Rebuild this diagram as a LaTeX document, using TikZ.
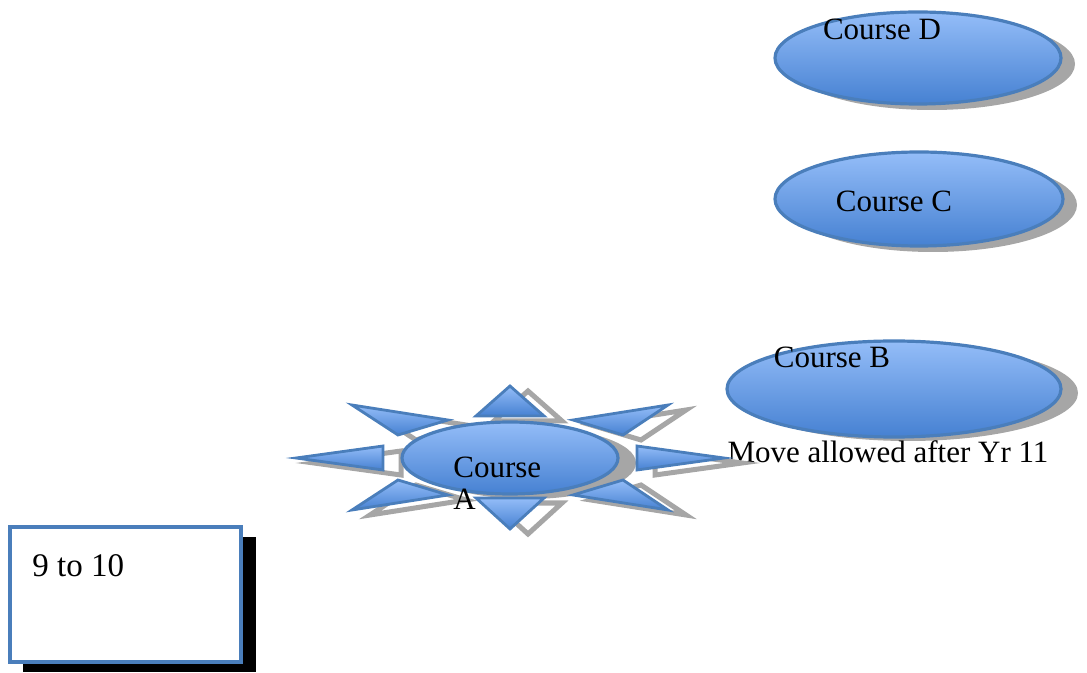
\documentclass[tikz,border=0pt]{standalone}
\usepackage{fontspec}
\setmainfont{Liberation Serif}
\usetikzlibrary{shapes.geometric,positioning}
\definecolor{officeblue}{HTML}{4A7EBB}
\definecolor{lightblue}{HTML}{94BDF8}
\definecolor{darkblue}{HTML}{4681D2}
\definecolor{shadowgray}{HTML}{A6A6A6}

\begin{document}
\begin{tikzpicture}
  [x=0.5pt,y=-0.5pt,every node/.style={font=\fontsize{15.5}{16}\selectfont}]

  \tikzstyle{course} = [draw=officeblue, line width=1.6pt, ellipse, inner sep=0pt,
                        top color=lightblue, bottom color=darkblue]
  \tikzstyle{shade} = [fill=shadowgray, ellipse, inner sep=0pt]
  \tikzstyle{ray} = [draw=officeblue, line width=1.4pt, top color=lightblue, bottom color=darkblue]
  \tikzstyle{rayshade} = [draw=shadowgray, line width=2.5pt, fill=white]

  \useasboundingbox (0,0) rectangle (1087,673);

  % shadows of the courses
  \node[shade, minimum width=143pt, minimum height=46pt] (shD) at (932,64) {};
  \node[shade, minimum width=144pt, minimum height=47pt] (shC) at (933,205) {};
  \node[shade, minimum width=170pt, minimum height=48pt] (shB) at (908,393) {};

  \node[course, minimum width=143pt, minimum height=46pt] (courseD) at (918,58) {};
  \node[course, minimum width=144pt, minimum height=47pt] (courseC) at (919,199) {};
  \node[course, minimum width=167pt, minimum height=48pt] (courseB) at (894,389) {};

  \node (labD) at (882,29) {Course D};
  \node (labC) at (894,201) {Course C};
  \node (labB) at (832,357) {Course B};
  \node (move) at (888,452) {Move allowed after Yr 11};

  % sun round course A
  \begin{scope}[shift={(18,5)}]
    \foreach \p in {{(510,386)--(476,416)--(544,416)},
                    {(510,529)--(476,498)--(544,498)},
                    {(296,458)--(383,446)--(383,470)},
                    {(724,458)--(637,446)--(637,470)},
                    {(352,405)--(448,420)--(398,435)},
                    {(668,405)--(573,420)--(623,435)},
                    {(352,510)--(398,480)--(448,495)},
                    {(668,510)--(623,480)--(573,495)}}
      \draw[rayshade] \p -- cycle;
    \node[shade, minimum width=108pt, minimum height=36pt] (shA) at (510,458) {};
  \end{scope}
  \foreach \p in {{(510,386)--(476,416)--(544,416)},
                  {(510,529)--(476,498)--(544,498)},
                  {(296,458)--(383,446)--(383,470)},
                  {(724,458)--(637,446)--(637,470)},
                  {(352,405)--(448,420)--(398,435)},
                  {(668,405)--(573,420)--(623,435)},
                  {(352,510)--(398,480)--(448,495)},
                  {(668,510)--(623,480)--(573,495)}}
    \draw[ray] \p -- cycle;
  \node[course, minimum width=108pt, minimum height=36pt] (courseA) at (510,458) {};
  \node[anchor=north west, align=left, inner sep=0pt] (labA) at (453,457) {Course\\A};

  % years box
  \node[fill=black, minimum width=116.5pt, minimum height=67.5pt, inner sep=0pt] (shY) at (139.5,604.5) {};
  \node[draw=officeblue, line width=1.6pt, fill=white, minimum width=115.5pt,
        minimum height=67.5pt, inner sep=0pt] (years) at (125.5,594.5) {};
  \node[anchor=west, inner sep=0pt, font=\fontsize{16.5}{18}\selectfont] (labY) at (32,566) {9 to 10};
\end{tikzpicture}
\end{document}
